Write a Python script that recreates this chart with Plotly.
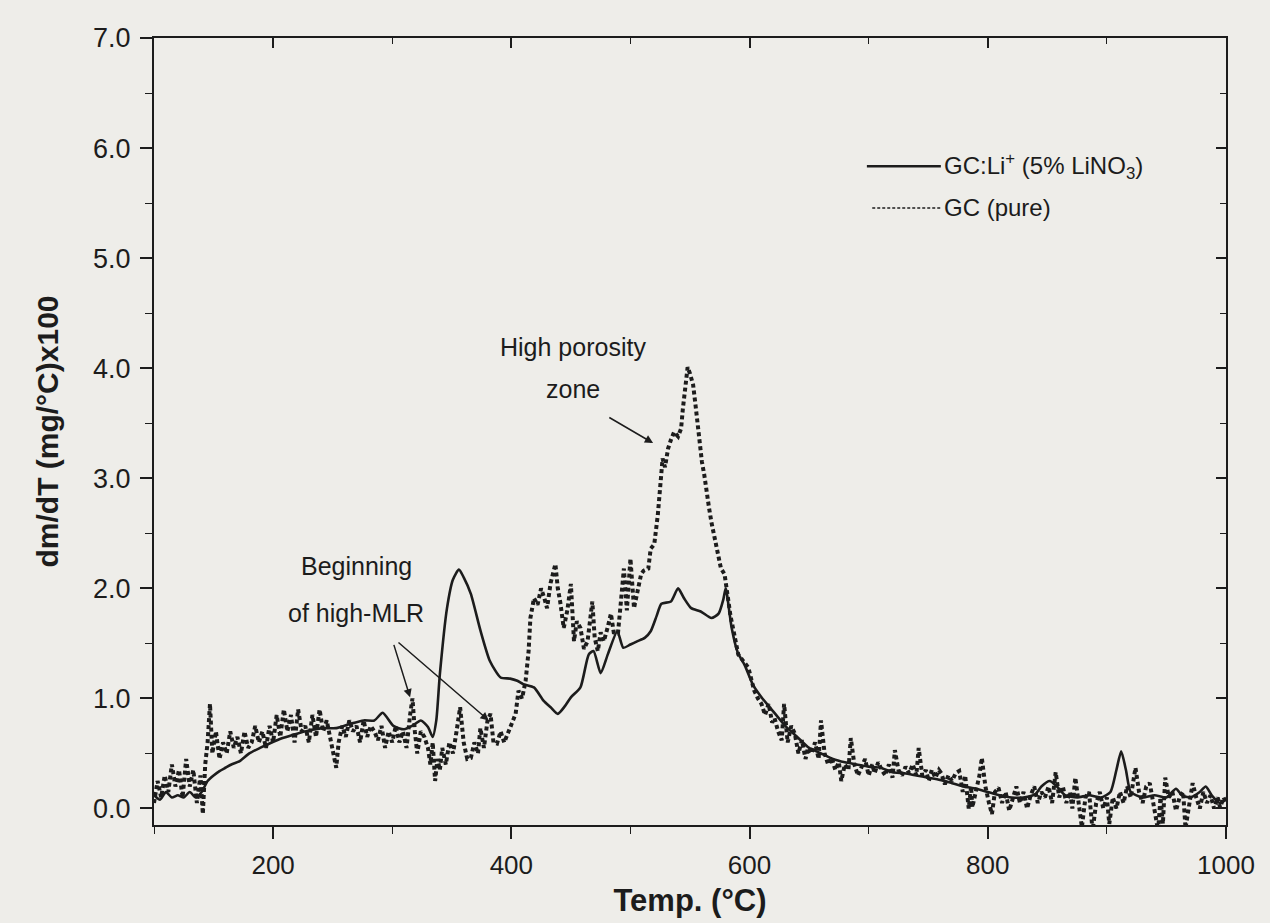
import plotly.graph_objects as go

# DTG curves: mass-loss rate vs temperature
temp_li = [100, 105, 110, 115, 120, 125, 130, 135, 140, 145, 150, 155, 160, 165, 172, 180, 189, 197,
           208, 220, 231, 242, 253, 265, 276, 285, 292, 301, 310, 318, 324, 330, 334, 337, 340, 346,
           351, 356, 360, 366, 374, 382, 391, 399, 405, 410, 419, 427, 433, 439, 445, 450, 458, 465,
           469, 475, 481, 489, 494, 500, 506, 512, 517, 522, 526, 534, 540, 545, 551, 559, 568, 574,
           578, 580, 585, 590, 596, 603, 610, 620, 630, 640, 650, 660, 670, 680, 690, 700, 710, 720,
           730, 740, 750, 760, 770, 780, 790, 800, 810, 820, 830, 840, 845, 852, 858, 865, 875, 885,
           895, 903, 908, 912, 916, 920, 930, 940, 950, 958, 963, 970, 978, 983, 988, 995, 1000]
dtg_li = [0.12, 0.08, 0.15, 0.10, 0.12, 0.10, 0.15, 0.10, 0.15, 0.25, 0.30, 0.34, 0.37, 0.40, 0.43,
          0.50, 0.55, 0.59, 0.64, 0.68, 0.71, 0.73, 0.73, 0.77, 0.80, 0.80, 0.87, 0.75, 0.72, 0.76,
          0.80, 0.74, 0.65, 0.80, 1.22, 1.82, 2.08, 2.17, 2.10, 1.95, 1.62, 1.34, 1.19, 1.18, 1.16,
          1.13, 1.10, 0.98, 0.92, 0.86, 0.93, 1.01, 1.10, 1.40, 1.43, 1.23, 1.40, 1.61, 1.46, 1.49,
          1.52, 1.55, 1.61, 1.75, 1.86, 1.88, 2.00, 1.91, 1.82, 1.79, 1.73, 1.77, 1.90, 2.00, 1.64,
          1.42, 1.30, 1.12, 1.01, 0.88, 0.75, 0.65, 0.55, 0.50, 0.45, 0.42, 0.40, 0.38, 0.37, 0.33,
          0.32, 0.30, 0.28, 0.26, 0.23, 0.20, 0.18, 0.15, 0.12, 0.10, 0.10, 0.13, 0.20, 0.25, 0.20,
          0.12, 0.10, 0.12, 0.10, 0.15, 0.35, 0.52, 0.35, 0.15, 0.10, 0.12, 0.10, 0.18, 0.12, 0.10,
          0.15, 0.20, 0.12, 0.05, 0.08]

temp_pure = [100, 103, 106, 109, 112, 115, 118, 121, 124, 127, 130, 133, 136, 139, 141, 143, 145, 147,
             149, 152, 155, 158, 161, 164, 167, 170, 173, 176, 179, 182, 185, 188, 191, 194, 197, 200,
             203, 206, 209, 212, 215, 218, 221, 224, 227, 230, 233, 236, 239, 242, 245, 248, 251, 253,
             255, 258, 261, 264, 267, 270, 273, 276, 279, 282, 285, 288, 291, 294, 297, 300, 303, 306,
             309, 312, 315, 317, 319, 321, 324, 327, 330, 332, 334, 336, 338, 340, 342, 345, 348, 351,
             354, 357, 360, 363, 366, 369, 372, 374, 377, 380, 382.5, 385, 388, 391, 394, 397, 400,
             403.6, 406, 409, 412, 414.5, 416, 419, 422, 425, 428, 430, 433, 437, 439, 441, 444, 447,
             450, 452.6, 455, 458, 461, 464, 466, 468, 470, 472.6, 475, 477.7, 481, 483.6, 486, 489.5,
             492, 494.5, 497, 500, 503, 506, 509, 511, 515, 517, 520, 523, 525.7, 527, 529, 531.6, 534,
             536.6, 540, 542.5, 544, 546.8, 548, 550, 552.6, 555, 557.7, 560, 562, 564, 566, 568, 570,
             573.7, 576, 579, 582, 584, 587, 590.5, 594, 599, 602, 604, 607, 610, 613, 616, 619, 621,
             624, 627, 629, 632, 635, 638, 641, 644, 647, 649, 652, 655, 658, 660, 663, 666, 669, 672,
             675, 677, 680, 683, 685, 688, 691, 694, 697, 700, 703, 705, 708, 711, 714, 717, 720, 722,
             725, 728, 731, 734, 737, 740, 742, 745, 748, 750.5, 753, 756, 759, 761, 764, 767, 770, 773,
             776, 779, 781, 784, 786, 787, 790, 793, 795, 798, 801, 803.5, 806, 809, 812, 815, 818, 821,
             824, 827, 830, 833, 836, 839, 842, 845, 848, 851, 854, 857, 860, 863, 866, 869, 871, 873.5,
             876, 879, 882, 885, 888, 891, 894, 897, 900, 902, 905, 908, 911, 914, 917, 920, 924, 927,
             930, 933, 936, 939, 943, 945, 947, 949, 952, 955, 958, 961, 964, 966, 969, 972, 975, 978,
             981, 984, 987, 990, 993, 995, 998, 1000]
dtg_pure = [0.05, 0.25, 0.10, 0.30, 0.15, 0.40, 0.20, 0.35, 0.10, 0.45, 0.20, 0.35, 0.05, 0.30, -0.05,
            0.40, 0.60, 0.95, 0.50, 0.70, 0.45, 0.60, 0.50, 0.70, 0.55, 0.65, 0.50, 0.70, 0.55, 0.60,
            0.75, 0.60, 0.70, 0.55, 0.75, 0.60, 0.85, 0.65, 0.90, 0.70, 0.85, 0.60, 0.90, 0.70, 0.75,
            0.60, 0.85, 0.65, 0.90, 0.70, 0.80, 0.65, 0.50, 0.37, 0.60, 0.75, 0.65, 0.80, 0.70, 0.75,
            0.60, 0.80, 0.65, 0.75, 0.70, 0.62, 0.75, 0.55, 0.70, 0.60, 0.75, 0.60, 0.70, 0.55, 0.85,
            1.00, 0.70, 0.50, 0.70, 0.65, 0.55, 0.40, 0.60, 0.25, 0.45, 0.35, 0.55, 0.40, 0.60, 0.50,
            0.70, 0.92, 0.60, 0.45, 0.46, 0.60, 0.50, 0.73, 0.55, 0.80, 0.86, 0.60, 0.59, 0.70, 0.60,
            0.68, 0.75, 0.86, 1.07, 1.00, 1.16, 1.43, 1.73, 1.91, 1.85, 2.00, 1.90, 1.82, 2.05, 2.22,
            2.00, 1.88, 1.64, 1.80, 2.04, 1.52, 1.70, 1.64, 1.45, 1.52, 1.70, 1.88, 1.55, 1.43, 1.60,
            1.52, 1.65, 1.77, 1.60, 1.59, 1.88, 2.18, 1.80, 2.27, 1.82, 2.00, 2.13, 2.16, 2.18, 2.36,
            2.40, 2.67, 2.97, 3.18, 3.10, 3.27, 3.35, 3.42, 3.38, 3.45, 3.63, 3.94, 4.01, 3.95, 3.85,
            3.63, 3.33, 3.15, 3.03, 2.85, 2.73, 2.60, 2.49, 2.31, 2.18, 2.13, 1.88, 1.75, 1.59, 1.40,
            1.35, 1.28, 1.15, 1.07, 1.00, 0.95, 0.85, 0.95, 0.78, 0.82, 0.70, 0.62, 0.95, 0.60, 0.75,
            0.68, 0.50, 0.62, 0.45, 0.55, 0.50, 0.60, 0.45, 0.80, 0.50, 0.40, 0.46, 0.35, 0.42, 0.25,
            0.40, 0.35, 0.64, 0.40, 0.30, 0.37, 0.45, 0.30, 0.40, 0.32, 0.42, 0.35, 0.30, 0.40, 0.28,
            0.53, 0.35, 0.30, 0.38, 0.32, 0.40, 0.30, 0.55, 0.30, 0.35, 0.25, 0.35, 0.28, 0.35, 0.32,
            0.22, 0.30, 0.25, 0.32, 0.34, 0.15, 0.30, 0.00, 0.20, 0.01, 0.15, 0.30, 0.46, 0.20, 0.05,
            -0.05, 0.15, 0.19, 0.05, 0.15, -0.02, 0.10, 0.20, 0.05, 0.15, 0.00, 0.12, 0.20, 0.05, 0.15,
            0.10, 0.20, 0.05, 0.33, 0.10, 0.20, 0.05, 0.15, 0.00, 0.28, 0.05, -0.17, 0.10, 0.15, -0.20,
            0.05, 0.15, 0.00, 0.10, -0.14, 0.10, 0.00, 0.15, 0.05, 0.20, 0.10, 0.37, 0.15, 0.05, 0.20,
            0.23, 0.05, -0.20, 0.10, -0.14, 0.28, 0.10, 0.15, -0.02, 0.10, 0.15, -0.18, 0.05, 0.23,
            0.10, 0.00, 0.15, 0.05, 0.12, 0.00, 0.10, 0.01, 0.10, 0.05]

x_ticks = [200, 400, 600, 800, 1000]
y_ticks = [0, 1, 2, 3, 4, 5, 6, 7]

BG = "#eeede9"
INK = "#1c1c1c"
FONT = "Liberation Sans, Arial, sans-serif"

fig = go.Figure()
fig.add_trace(go.Scatter(x=temp_pure, y=dtg_pure, mode="lines",
                         line=dict(color=INK, width=4, dash="4px,3px"),
                         showlegend=False))
fig.add_trace(go.Scatter(x=temp_li, y=dtg_li, mode="lines",
                         line=dict(color=INK, width=2.6, shape="spline", smoothing=0.6),
                         showlegend=False))
# carrier trace so the mirrored top/right frame axes are drawn
fig.add_trace(go.Scatter(x=temp_li, y=dtg_li, mode="lines", xaxis="x2", yaxis="y2",
                         line=dict(color="rgba(0,0,0,0)", width=0), hoverinfo="skip",
                         showlegend=False))

axis_common = dict(showgrid=False, zeroline=False, linecolor=INK, linewidth=2,
                   tickcolor=INK, tickwidth=1.6)

fig.update_layout(
    width=1270, height=923,
    paper_bgcolor=BG, plot_bgcolor=BG,
    margin=dict(l=154, r=44, t=38, b=98),
    font=dict(family=FONT, color=INK, size=25),
    xaxis=dict(range=[100, 1000], tickvals=x_ticks, ticks="outside", ticklen=12,
               minor=dict(dtick=100, tick0=100, ticks="outside", ticklen=7, tickcolor=INK, tickwidth=1.4),
               tickfont=dict(size=26), ticklabelstandoff=4,
               title=dict(text="<b>Temp. (°C)</b>", font=dict(size=31), standoff=10),
               **axis_common),
    yaxis=dict(range=[-0.15, 7.0], tickvals=y_ticks, tickformat=".1f", ticks="outside", ticklen=12,
               minor=dict(dtick=0.5, tick0=0, ticks="outside", ticklen=7, tickcolor=INK, tickwidth=1.4),
               tickfont=dict(size=27), ticklabelstandoff=4,
               title=dict(text="<b>dm/dT (mg/°C)x100</b>", font=dict(size=30), standoff=26),
               **axis_common),
    xaxis2=dict(range=[100, 1000], overlaying="x", side="top", tickvals=x_ticks, ticks="inside",
                ticklen=10, showticklabels=False,
                minor=dict(dtick=100, tick0=100, ticks="inside", ticklen=6, tickcolor=INK, tickwidth=1.4),
                **axis_common),
    yaxis2=dict(range=[-0.15, 7.0], overlaying="y", side="right", tickvals=y_ticks, ticks="inside",
                ticklen=10, showticklabels=False,
                minor=dict(dtick=0.5, tick0=0, ticks="inside", ticklen=6, tickcolor=INK, tickwidth=1.4),
                **axis_common),
)

# legend drawn as line samples plus labels
fig.add_shape(type="line", xref="paper", yref="paper", x0=0.665, x1=0.734, y0=0.837, y1=0.837,
              line=dict(color=INK, width=2.6))
fig.add_shape(type="line", xref="paper", yref="paper", x0=0.670, x1=0.734, y0=0.784, y1=0.784,
              line=dict(color=INK, width=1.6, dash="3px,2px"))
fig.add_annotation(xref="paper", yref="paper", x=0.735, y=0.837, xanchor="left", yanchor="middle",
                   text="GC:Li<sup>+</sup> (5% LiNO<sub>3</sub>)", showarrow=False, font=dict(size=24))
fig.add_annotation(xref="paper", yref="paper", x=0.735, y=0.784, xanchor="left", yanchor="middle",
                   text="GC (pure)", showarrow=False, font=dict(size=24))

# callouts
fig.add_annotation(x=452, y=4.19, text="High porosity", showarrow=False, font=dict(size=25))
fig.add_annotation(x=452, y=3.81, text="zone", showarrow=False, font=dict(size=25))
fig.add_annotation(x=519, y=3.32, ax=481, ay=3.56, xref="x", yref="y", axref="x", ayref="y",
                   text="", showarrow=True, arrowhead=2, arrowsize=1.1, arrowwidth=1.5, arrowcolor=INK)
fig.add_annotation(x=270, y=2.20, text="Beginning", showarrow=False, font=dict(size=25))
fig.add_annotation(x=270, y=1.78, text="of high-MLR", showarrow=False, font=dict(size=25))
fig.add_annotation(x=315, y=1.01, ax=301, ay=1.50, xref="x", yref="y", axref="x", ayref="y",
                   text="", showarrow=True, arrowhead=2, arrowsize=1.1, arrowwidth=1.5, arrowcolor=INK)
fig.add_annotation(x=381, y=0.80, ax=304, ay=1.52, xref="x", yref="y", axref="x", ayref="y",
                   text="", showarrow=True, arrowhead=2, arrowsize=1.1, arrowwidth=1.5, arrowcolor=INK)

fig.write_html("out.html")
